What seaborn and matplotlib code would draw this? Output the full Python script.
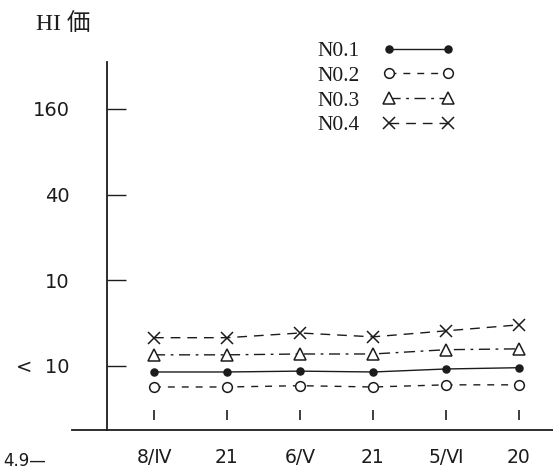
import matplotlib
matplotlib.use("Agg")
import matplotlib.pyplot as plt
import seaborn as sns
import pandas as pd

# Sampling dates (day / month in Roman numerals)
dates = ["8/Ⅳ", "21", "6/Ⅴ", "21", "5/Ⅵ", "20"]
# HI titer scale levels, bottom to top
titer_labels = ["<  10", "10", "40", "160"]

# Plotted HI level per sample, in titer-scale units (0 = "<10", 1 = "10", ...)
no1 = [-0.07, -0.07, -0.06, -0.07, -0.035, -0.02]
no2 = [-0.245, -0.245, -0.23, -0.245, -0.22, -0.22]
no3 = [0.13, 0.13, 0.14, 0.14, 0.19, 0.20]
no4 = [0.33, 0.33, 0.385, 0.34, 0.41, 0.48]

series = {"N0.1": no1, "N0.2": no2, "N0.3": no3, "N0.4": no4}

sns.set_theme(style="white")
ink = "#1c1c1c"

fig = plt.figure(figsize=(5.53, 4.70), dpi=100)
ax = fig.add_axes([72 / 553, 1 - 430 / 470, 481 / 553, 368 / 470])

pos = list(range(len(dates)))
styles = {
    "N0.1": dict(marker="o", markersize=5, markerfacecolor=ink, linestyle="-"),
    "N0.2": dict(marker="o", markersize=7, markerfacecolor="white", linestyle=(0, (5, 5))),
    "N0.3": dict(marker="^", markersize=8, markerfacecolor="white", linestyle=(0, (8, 4, 2, 4))),
    "N0.4": dict(marker="x", markersize=9, markerfacecolor=ink, linestyle=(0, (7, 5))),
}

for name, vals in series.items():
    df = pd.DataFrame({"date": pos, "HI": vals})
    sns.lineplot(data=df, x="date", y="HI", ax=ax, color=ink, linewidth=1.0,
                 markeredgecolor=ink, markeredgewidth=1.1, label=name,
                 **styles[name])

ax.set_xlim(-(154 - 72) / 73, 5 + (553 - 519) / 73)
ax.set_ylim(-0.747, 3.547)

# Axes: long baseline, vertical axis set in from the left edge
for s in ["top", "right"]:
    ax.spines[s].set_visible(False)
ax.spines["left"].set_position(("axes", 35 / 481))
for s in ["left", "bottom"]:
    ax.spines[s].set_color(ink)
    ax.spines[s].set_linewidth(1.3)

ax.set_yticks(range(len(titer_labels)))
ax.set_yticklabels(titer_labels)
ax.tick_params(axis="y", direction="in", length=14, width=1.0, color=ink,
               pad=27, labelsize=14, labelcolor=ink, left=True)
ax.set_xticks(pos)
ax.set_xticklabels(dates)
ax.tick_params(axis="x", length=0, pad=13, labelsize=13.5, labelcolor=ink)
# Short sample markers standing just above the baseline
ax.vlines(pos, 0.027, 0.054, transform=ax.get_xaxis_transform(), color=ink, linewidth=1.2)

ax.set_xlabel("")
ax.set_ylabel("")
ax.grid(False)

leg = ax.legend(markerfirst=False, numpoints=2, frameon=False, loc="upper left",
                bbox_to_anchor=(317 / 553, 1 - 41 / 470), bbox_transform=fig.transFigure,
                borderpad=0, borderaxespad=0, handlelength=3.3, handletextpad=1.1,
                labelspacing=0.22, prop={"family": "Liberation Serif", "size": 15.5})
for t in leg.get_texts():
    t.set_color(ink)

fig.text(36 / 553, 1 - 24 / 470, "HI 価", ha="left", va="center", fontsize=17,
         family=["Liberation Serif", "Noto Sans CJK JP"], color=ink)
fig.text(3 / 553, 1 - 452 / 470, "4.9—", ha="left", va="top", fontsize=12, color=ink)

fig.savefig("out.png", dpi=100)
